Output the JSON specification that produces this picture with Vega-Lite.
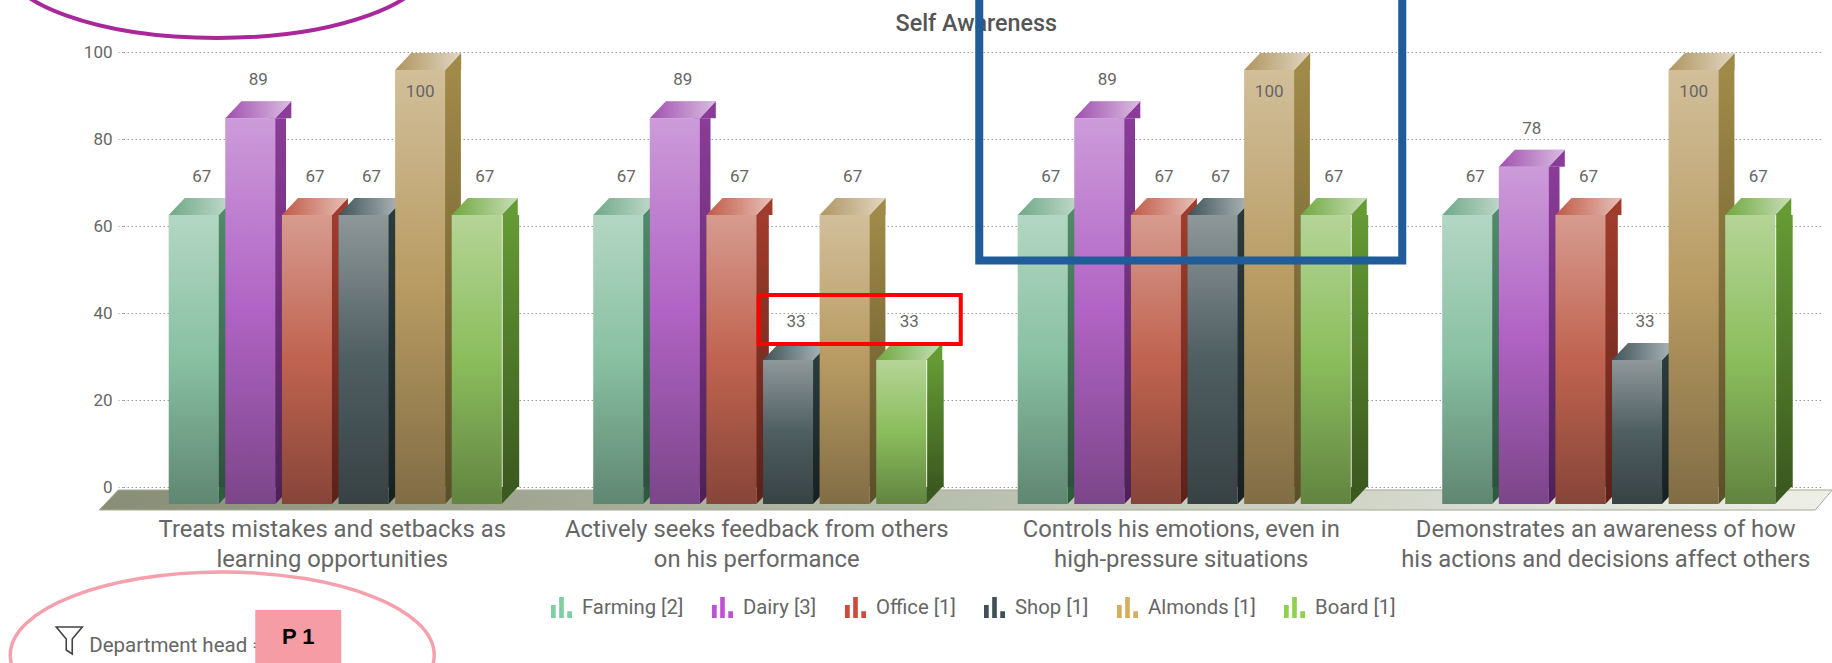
{
"$schema":"https://vega.github.io/schema/vega-lite/v6.json",
"width":1709,"height":435,
"autosize":{"type":"none"},
"padding":{"left":123,"top":52,"right":0,"bottom":176},
"background":"white",
"config":{"view":{"stroke":null},"font":"Roboto"},
"layer":[
{"data":{"values":[{"note":"floor"}]},
 "mark":{"type":"point","shape":"M-236,23 L-217,3 L1497,3 L1480,23 Z","size":4,"filled":true,"opacity":1,"strokeWidth":1,"stroke":"#a5a894","fill":{"gradient":"linear","x1":0,"y1":0,"x2":1,"y2":0,"stops":[{"offset":0,"color":"#888e76"},{"offset":0.5,"color":"#b9bfae"},{"offset":1,"color":"#eef0e8"}]}},
 "encoding":{"x":{"datum":"Treats mistakes and setbacks as learning opportunities","type":"nominal","title":null,"scale":{"type":"band","domain":["Treats mistakes and setbacks as learning opportunities","Actively seeks feedback from others on his performance","Controls his emotions, even in high-pressure situations","Demonstrates an awareness of how his actions and decisions affect others"],"range":[0,1698],"paddingInner":0,"paddingOuter":0},
   "axis":{"title":null,"domain":false,"ticks":false,"labelAngle":0,"labelFont":"Roboto","labelFontSize":23.8,"labelColor":"#666666","labelPadding":42,"labelLimit":0,"labelOffset":-3,"labelLineHeight":30,"labelBaseline":"middle","labelExpr":"datum.value=='Treats mistakes and setbacks as learning opportunities'?['Treats mistakes and setbacks as','learning opportunities']:datum.value=='Actively seeks feedback from others on his performance'?['Actively seeks feedback from others','on his performance']:datum.value=='Controls his emotions, even in high-pressure situations'?['Controls his emotions, even in','high-pressure situations']:['Demonstrates an awareness of how','his actions and decisions affect others']"}},
  "y":{"datum":0,"type":"quantitative","title":null,"scale":{"domain":[0,100],"nice":false},
   "axis":{"title":null,"values":[0,20,40,60,80,100],"domain":false,"grid":true,"gridColor":"#999999","gridDash":[1.5,2.5],"gridWidth":1,"tickColor":"#999999","tickDash":[1.5,2.5],"tickSize":5,"labelFont":"Roboto","labelFontSize":17,"labelColor":"#666666","labelPadding":6}}}
},
{"data":{"values":[
{"q":"Treats mistakes and setbacks as learning opportunities","dept":"Farming [2]","value":66.67},
{"q":"Treats mistakes and setbacks as learning opportunities","dept":"Dairy [3]","value":88.89},
{"q":"Treats mistakes and setbacks as learning opportunities","dept":"Office [1]","value":66.67},
{"q":"Treats mistakes and setbacks as learning opportunities","dept":"Shop [1]","value":66.67},
{"q":"Treats mistakes and setbacks as learning opportunities","dept":"Almonds [1]","value":100},
{"q":"Treats mistakes and setbacks as learning opportunities","dept":"Board [1]","value":66.67},
{"q":"Actively seeks feedback from others on his performance","dept":"Farming [2]","value":66.67},
{"q":"Actively seeks feedback from others on his performance","dept":"Dairy [3]","value":88.89},
{"q":"Actively seeks feedback from others on his performance","dept":"Office [1]","value":66.67},
{"q":"Actively seeks feedback from others on his performance","dept":"Shop [1]","value":33.33},
{"q":"Actively seeks feedback from others on his performance","dept":"Almonds [1]","value":66.67},
{"q":"Actively seeks feedback from others on his performance","dept":"Board [1]","value":33.33},
{"q":"Controls his emotions, even in high-pressure situations","dept":"Farming [2]","value":66.67},
{"q":"Controls his emotions, even in high-pressure situations","dept":"Dairy [3]","value":88.89},
{"q":"Controls his emotions, even in high-pressure situations","dept":"Office [1]","value":66.67},
{"q":"Controls his emotions, even in high-pressure situations","dept":"Shop [1]","value":66.67},
{"q":"Controls his emotions, even in high-pressure situations","dept":"Almonds [1]","value":100},
{"q":"Controls his emotions, even in high-pressure situations","dept":"Board [1]","value":66.67},
{"q":"Demonstrates an awareness of how his actions and decisions affect others","dept":"Farming [2]","value":66.67},
{"q":"Demonstrates an awareness of how his actions and decisions affect others","dept":"Dairy [3]","value":77.78},
{"q":"Demonstrates an awareness of how his actions and decisions affect others","dept":"Office [1]","value":66.67},
{"q":"Demonstrates an awareness of how his actions and decisions affect others","dept":"Shop [1]","value":33.33},
{"q":"Demonstrates an awareness of how his actions and decisions affect others","dept":"Almonds [1]","value":100},
{"q":"Demonstrates an awareness of how his actions and decisions affect others","dept":"Board [1]","value":66.67}
]},
"encoding":{"x":{"field":"q","type":"nominal","title":null,"sort":null},
 "xOffset":{"field":"dept","type":"nominal","sort":null,"scale":{"type":"band","domain":["Farming [2]","Dairy [3]","Office [1]","Shop [1]","Almonds [1]","Board [1]"],"paddingInner":0.1166,"paddingOuter":0.808}},
 "y":{"field":"value","type":"quantitative","title":null}},
"layer":[
{"mark":{"type":"bar","yOffset":18,"y2Offset":0},
 "encoding":{"xOffset":{"field":"dept","type":"nominal","sort":null,"scale":{"type":"band","domain":["Farming [2]","Dairy [3]","Office [1]","Shop [1]","Almonds [1]","Board [1]"],"paddingInner":0.7173,"paddingOuter":1.1087,"align":0.757}},"y2":{"datum":0},"color":{"field":"dept","type":"nominal","legend":null,"sort":null,"scale":{"domain":["Farming [2]","Dairy [3]","Office [1]","Shop [1]","Almonds [1]","Board [1]"],"range":["#4f8a6a","#8a3c98","#a03c2c","#2b3b3c","#a08a48","#659a35"]}}}},
{"mark":{"type":"bar","yOffset":18,"y2Offset":0,"fill":{"gradient":"linear","x1":0,"y1":0,"x2":0,"y2":1,"stops":[{"offset":0,"color":"rgba(0,0,0,0)"},{"offset":1,"color":"rgba(0,0,0,0.42)"}]}},
 "encoding":{"xOffset":{"field":"dept","type":"nominal","sort":null,"scale":{"type":"band","domain":["Farming [2]","Dairy [3]","Office [1]","Shop [1]","Almonds [1]","Board [1]"],"paddingInner":0.7173,"paddingOuter":1.1087,"align":0.757}},"y2":{"datum":0}}},
{"mark":{"type":"point","shape":"M25,18 L41,1 L41,18 Z","size":4,"filled":true,"opacity":1,"strokeWidth":0},
 "encoding":{"color":{"field":"dept","type":"nominal","legend":null,"sort":null,"scale":{"domain":["Farming [2]","Dairy [3]","Office [1]","Shop [1]","Almonds [1]","Board [1]"],"range":["#4f8a6a","#8a3c98","#a03c2c","#2b3b3c","#a08a48","#659a35"]}}}},
{"mark":{"type":"point","shape":"M25,0 L41,0 L25,17 Z","size":4,"filled":true,"opacity":1,"strokeWidth":0},
 "encoding":{"y":{"datum":0},"color":{"field":"dept","type":"nominal","legend":null,"sort":null,"scale":{"domain":["Farming [2]","Dairy [3]","Office [1]","Shop [1]","Almonds [1]","Board [1]"],"range":["#2e5a40","#501f5a","#5d2318","#192223","#5d5029","#3b5a1f"]}}}},
{"mark":{"type":"point","shape":"M-25,18 L-9,1 L41,1 L25,18 Z","size":4,"filled":true,"opacity":1,"strokeWidth":0},
 "encoding":{"color":{"field":"dept","type":"nominal","legend":null,"sort":null,"scale":{"domain":["Farming [2]","Dairy [3]","Office [1]","Shop [1]","Almonds [1]","Board [1]"],"range":["#6fa888","#a050b0","#c05a45","#3f5358","#b09560","#70a840"]}}}},
{"mark":{"type":"point","shape":"M-25,18 L-9,1 L41,1 L25,18 Z","size":4,"filled":true,"opacity":1,"strokeWidth":0,"fill":{"gradient":"linear","x1":0,"y1":0,"x2":1,"y2":0,"stops":[{"offset":0,"color":"rgba(255,255,255,0)"},{"offset":1,"color":"rgba(255,255,255,0.62)"}]}}},
{"mark":{"type":"bar","yOffset":18,"y2Offset":17},
 "encoding":{"y2":{"datum":0},"color":{"field":"dept","type":"nominal","legend":null,"sort":null,"scale":{"domain":["Farming [2]","Dairy [3]","Office [1]","Shop [1]","Almonds [1]","Board [1]"],"range":["#88c0a2","#b063c4","#c06350","#4f5e61","#b89b62","#8bbd5c"]}}}},
{"mark":{"type":"bar","yOffset":18,"y2Offset":17,"fill":{"gradient":"linear","x1":0,"y1":0,"x2":0,"y2":1,"stops":[{"offset":0,"color":"rgba(255,255,255,0.36)"},{"offset":0.5,"color":"rgba(255,255,255,0)"},{"offset":0.5,"color":"rgba(0,0,0,0)"},{"offset":1,"color":"rgba(0,0,0,0.3)"}]}},
 "encoding":{"y2":{"datum":0}}},
{"transform":[{"filter":"datum.value<100"}],
 "mark":{"type":"text","font":"Roboto","fontSize":17,"color":"#666666","dx":8,"dy":-20,"baseline":"middle"},
 "encoding":{"text":{"field":"value","type":"quantitative","format":".0f"}}},
{"transform":[{"filter":"datum.value>=100"}],
 "mark":{"type":"text","font":"Roboto","fontSize":17,"color":"#666666","dx":0,"dy":40,"baseline":"middle"},
 "encoding":{"text":{"field":"value","type":"quantitative","format":".0f"}}},
{"mark":{"type":"point","filled":true,"size":0,"opacity":0},
 "encoding":{"color":{"field":"dept","type":"nominal","sort":null,"scale":{"domain":["Farming [2]","Dairy [3]","Office [1]","Shop [1]","Almonds [1]","Board [1]"],"range":["#7fcf9f","#c050d8","#d04a3a","#3d5055","#d6ae5e","#8fd14f"]},
  "legend":{"orient":"none","legendX":428,"legendY":545,"direction":"horizontal","columns":6,"title":null,"symbolType":"M-1,1 L-1,-0.25 L-0.55,-0.25 L-0.55,1 Z M-0.22,1 L-0.22,-1 L0.22,-1 L0.22,1 Z M0.55,1 L0.55,0.35 L1,0.35 L1,1 Z","symbolSize":441,"symbolStrokeWidth":0,"symbolOpacity":1,"labelFont":"Roboto","labelFontSize":20.3,"labelColor":"#666666","labelOffset":10,"columnPadding":28}}}}
],
"resolve":{"scale":{"color":"independent","xOffset":"independent"}}
},
{"data":{"values":[{"note":"title"}]},
 "mark":{"type":"text","text":"Self Awareness","font":"Roboto","fontSize":23.3,"fontWeight":500,"color":"#555555","dx":-208,"dy":-28,"baseline":"middle"},
 "encoding":{"x":{"datum":"Controls his emotions, even in high-pressure situations","type":"nominal","title":null},"y":{"datum":100,"type":"quantitative","title":null}}},
{"data":{"values":[{"note":"red box"}]},
 "mark":{"type":"point","shape":"M-1,-18 L201,-18 L201,31 L-1,31 Z","size":4,"opacity":1,"stroke":"#ff0000","strokeWidth":4,"fill":null},
 "encoding":{"x":{"datum":"Actively seeks feedback from others on his performance","type":"nominal","title":null},"y":{"datum":40,"type":"quantitative","title":null}}},
{"data":{"values":[{"note":"blue box"}]},
 "mark":{"type":"point","shape":"M-205,-246 L218,-246 L218,34.5 L-205,34.5 Z","size":4,"opacity":1,"stroke":"#1f5c99","strokeWidth":8,"fill":null},
 "encoding":{"x":{"datum":"Controls his emotions, even in high-pressure situations","type":"nominal","title":null},"y":{"datum":60,"type":"quantitative","title":null}}},
{"data":{"values":[{"note":"purple ellipse"}]},
 "mark":{"type":"point","shape":"M-333,-527 A215,78 0 1,1 97,-527 A215,78 0 1,1 -333,-527 Z","size":4,"opacity":1,"stroke":"#a8289a","strokeWidth":4,"fill":null},
 "encoding":{"x":{"datum":"Treats mistakes and setbacks as learning opportunities","type":"nominal","title":null},"y":{"datum":0,"type":"quantitative","title":null}}},
{"data":{"values":[{"note":"pink ellipse"}]},
 "mark":{"type":"point","shape":"M-325,168 A212,83 0 1,1 99,168 A212,83 0 1,1 -325,168 Z","size":4,"opacity":1,"stroke":"#f5a0ac","strokeWidth":3.5,"fill":null},
 "encoding":{"x":{"datum":"Treats mistakes and setbacks as learning opportunities","type":"nominal","title":null},"y":{"datum":0,"type":"quantitative","title":null}}},
{"data":{"values":[{"note":"funnel"}]},
 "mark":{"type":"point","shape":"M-279,140 L-253,140 L-263,152 L-263,167 L-269,163 L-269,152 Z","size":4,"opacity":1,"stroke":"#444444","strokeWidth":1.6,"fill":null},
 "encoding":{"x":{"datum":"Treats mistakes and setbacks as learning opportunities","type":"nominal","title":null},"y":{"datum":0,"type":"quantitative","title":null}}},
{"data":{"values":[{"note":"filter text"}]},
 "mark":{"type":"text","text":"Department head =","font":"Roboto","fontSize":20.5,"color":"#666666","align":"left","baseline":"middle","dx":-246,"dy":159},
 "encoding":{"x":{"datum":"Treats mistakes and setbacks as learning opportunities","type":"nominal","title":null},"y":{"datum":0,"type":"quantitative","title":null}}},
{"data":{"values":[{"note":"pink box"}]},
 "mark":{"type":"point","shape":"M-80,123 L6,123 L6,176 L-80,176 Z","size":4,"opacity":1,"filled":true,"strokeWidth":0,"color":"#f59ca5"},
 "encoding":{"x":{"datum":"Treats mistakes and setbacks as learning opportunities","type":"nominal","title":null},"y":{"datum":0,"type":"quantitative","title":null}}},
{"data":{"values":[{"note":"filter value"}]},
 "mark":{"type":"text","text":"P 1","font":"Liberation Sans","fontSize":22,"fontWeight":"bold","color":"#000000","baseline":"middle","dx":-37,"dy":150},
 "encoding":{"x":{"datum":"Treats mistakes and setbacks as learning opportunities","type":"nominal","title":null},"y":{"datum":0,"type":"quantitative","title":null}}}
]
}
